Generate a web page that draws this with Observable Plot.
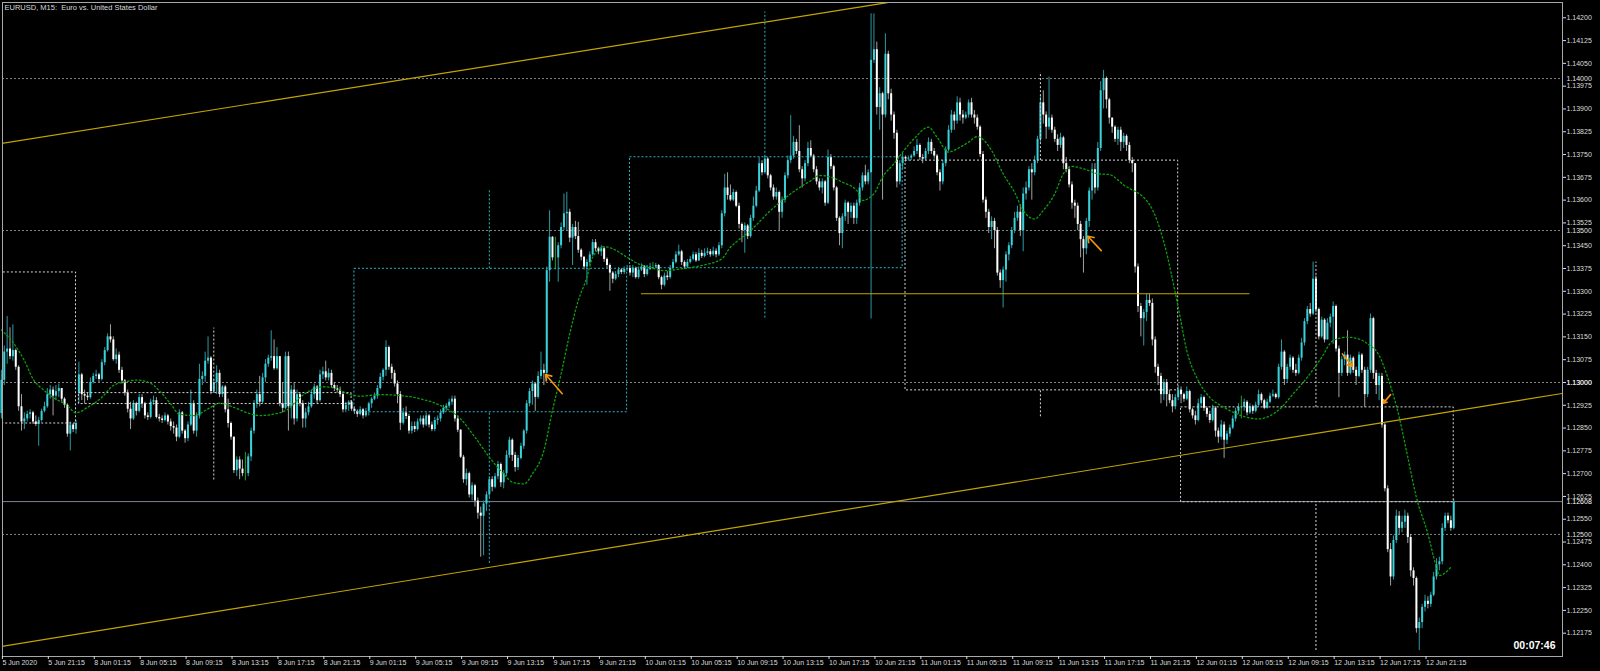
<!DOCTYPE html>
<html><head><meta charset="utf-8">
<script src="https://cdn.jsdelivr.net/npm/d3@7"></script>
<script src="https://cdn.jsdelivr.net/npm/@observablehq/plot@0.6"></script>
<style>
html,body{margin:0;padding:0;background:#000;}
#chart{width:1600px;height:671px;overflow:hidden;}
</style></head><body><div id="chart"></div>
<script>
// EURUSD M15. Prices stored in points (0.00001) above BASE = 1.12000.
// Bar index 0 = 5 Jun 2020 17:15, one bar per 15 minutes (weekend skipped).
const BASE = 1.12, PT = 1e-5;
const titleText = "EURUSD, M15:\u00a0\u00a0Euro vs. United States Dollar";
const timerText = "00:07:46";

const closes = [
1007,1100,1110,1085,1105,1050,920,870,880,895, 900,870,862,875,905,920,960,975,955,970, 980,945,925,830,860,845,865,
1025,960,955,950,1000,1020,1025,1010,1065,1105, 1150,1140,1075,1090,1040,1005,965,912,880,930, 905,950,930,890,885,935,940,885,880,875,
890,870,855,850,820,900,840,815,860,930, 840,890,1010,1020,1070,1080,970,1000,1030,960, 985,910,865,820,710,745,715,700,700,755,
840,930,960,935,1015,1060,1080,1085,1045,1085, 930,915,1085,920,975,880,960,930,880,900, 920,960,985,940,1025,1035,1015,1030,990,980, 975,960,910,925,935,912,
905,895,910,890,905,930,945,955,980,1017, 1040,1115,1050,1030,995,960,866,900,888,840, 855,845,870,880,860,890,860,845,875,880,
900,915,922,935,945,880,843,754,680,700, 630,660,610,570,560,600,630,680,655,690, 730,670,700,760,810,760,720,750,790,840,
930,970,995,951,1020,1040,1030,1368,1478,1410, 1410,1450,1510,1555,1560,1475,1510,1480,1435,1412, 1380,1395,1420,1460,1440,1430,1440,1405,1385,1360, 1340,1355,1370,1362,1372,1375,
1360,1375,1345,1370,1380,1355,1372,1380,1380,1385, 1345,1320,1350,1345,1375,1395,1420,1430,1395,1380, 1395,1405,1420,1400,1425,1415,1425,1430,1420,1432,
1420,1450,1555,1640,1615,1600,1625,1580,1520,1500, 1515,1480,1540,1580,1630,1720,1690,1735,1680,1640, 1610,1625,1560,1600,1680,1730,1745,1790,1760,1700,
1670,1720,1770,1745,1700,1660,1640,1660,1590,1740, 1710,1640,1540,1490,1545,1590,1560,1580,1540,1590, 1640,1680,1660,1690,2060,2095,1905,1950,1880,2080, 1950,1880,1820,1660,1720,1741,
1735,1738,1745,1760,1780,1740,1735,1760,1790,1760, 1745,1690,1660,1720,1765,1830,1880,1860,1920,1880, 1870,1880,1920,1880,1870,1840,1750,1600,1560,1510,
1530,1500,1360,1335,1370,1420,1450,1500,1540,1560, 1500,1620,1640,1700,1690,1730,1800,1920,1880,1840, 1870,1830,1800,1780,1805,1720,1700,1650,1590,1580,
1520,1470,1440,1530,1630,1700,1640,1770,1960,2000, 1930,1870,1840,1800,1830,1790,1810,1780,1730,1720, 1380,1250,1210,1230,1270,1260,1140,1050,1020,960, 1000,960,940,920,950,975,
960,945,970,910,890,875,930,950,915,895, 875,915,840,820,860,810,830,850,880,905, 918,918,935,900,920,905,925,960,940,915,
935,955,960,950,1050,1100,1010,1050,1080,1040, 1030,1080,1130,1200,1240,1225,1340,1240,1150,1205, 1140,1195,1215,1250,1110,1030,1075,1090,1030,1080,
1040,1020,1090,1040,960,1040,1210,1030,990,1020, 860,650,450,360,480,560,520,540,560,490, 380,355,190,210,260,280,270,300,360,400, 410,520,560,545,520,606];

const highs = [
1040,1120,1217,1180,1190,1110,1055,960,900,905, 910,905,890,885,912,935,980,990,985,990, 995,980,950,930,870,865,875,
1067,1030,975,965,1015,1030,1040,1030,1075,1115, 1160,1190,1150,1110,1100,1050,1010,975,935,940, 935,960,960,935,900,945,955,950,895,890,
900,895,880,870,860,910,905,845,870,975, 940,900,1060,1035,1100,1150,1085,1010,1055,1040, 990,990,945,870,820,755,755,745,770,765,
850,940,975,1020,1030,1075,1090,1170,1140,1115, 1080,1000,1100,1100,990,1000,975,965,940,915, 935,975,995,990,1040,1050,1070,1045,1040,1000, 990,985,965,935,940,940,
920,910,920,915,915,935,950,965,990,1030, 1045,1137,1120,1060,1040,1005,970,915,920,895, 870,870,880,890,890,900,895,870,885,890,
910,925,930,945,955,955,890,845,760,715, 705,670,665,620,590,610,640,690,690,700, 740,735,710,775,820,815,770,760,800,845,
940,980,1005,1000,1035,1100,1060,1380,1565,1480, 1478,1460,1525,1620,1626,1570,1520,1530,1527,1440, 1415,1405,1430,1470,1470,1445,1450,1445,1410,1390, 1365,1365,1378,1375,1380,1385,
1385,1385,1380,1380,1390,1385,1385,1392,1395,1392, 1388,1350,1360,1365,1385,1405,1430,1452,1435,1400, 1405,1415,1430,1428,1440,1435,1440,1442,1438,1445,
1440,1460,1565,1685,1690,1650,1635,1630,1590,1525, 1525,1520,1550,1610,1645,1740,1730,1745,1740,1685, 1650,1640,1630,1610,1690,1745,1878,1810,1800,1845,
1710,1730,1790,1795,1750,1710,1670,1670,1665,1765, 1750,1715,1645,1545,1555,1600,1595,1590,1590,1600, 1655,1690,1715,1700,2213,2213,2120,1970,1955,2147, 2090,1965,1890,1830,1730,1755,
1745,1745,1750,1775,1800,1785,1750,1770,1805,1800, 1770,1750,1700,1730,1775,1845,1895,1890,1940,1935, 1895,1890,1930,1935,1895,1880,1845,1760,1610,1570,
1545,1540,1510,1370,1380,1430,1460,1510,1560,1580, 1585,1640,1660,1710,1720,1745,1810,1940,1960,1890, 2005,1880,1840,1815,1820,1810,1740,1710,1660,1600,
1590,1530,1480,1540,1640,1720,1720,1790,1990,2027, 2005,1935,1870,1845,1840,1840,1820,1815,1790,1740, 1720,1390,1260,1240,1290,1290,1275,1150,1060,1030, 1010,1010,975,960,960,990,
985,965,985,975,915,905,945,960,955,920, 905,925,920,850,875,870,840,860,890,915, 930,955,945,940,930,925,935,975,965,945,
945,965,975,965,1060,1140,1105,1060,1090,1085, 1060,1090,1145,1210,1250,1260,1396,1350,1245,1215, 1210,1210,1225,1265,1255,1120,1085,1100,1170,1090,
1085,1050,1100,1095,1050,1050,1225,1215,1040,1030, 1030,865,660,470,495,580,575,560,580,570, 500,390,360,225,270,300,295,310,375,420, 425,535,570,570,560,615];

const lows = [
880,990,1060,1075,1070,1040,905,840,845,870, 880,862,855,790,870,900,915,945,890,940, 950,935,915,820,775,835,830,
930,940,930,940,945,995,1010,1000,1005,1055, 1100,1130,1070,1060,1030,995,955,900,845,875, 890,900,915,880,875,880,925,880,870,865,
870,860,840,830,805,815,830,800,805,855, 830,820,880,990,1000,1060,960,965,960,950, 950,900,850,810,700,690,680,690,676,690,
740,830,915,920,930,1000,1050,1070,1040,1040, 920,900,910,840,880,860,870,920,850,850, 890,915,945,930,935,1010,1005,1005,980,970, 965,950,900,900,905,905,
895,885,890,880,885,890,915,940,945,975, 1005,1020,1040,1010,985,930,842,860,878,830, 830,835,840,860,850,855,850,838,838,860,
870,895,905,915,925,870,835,750,668,660, 620,610,590,550,425,430,575,620,640,650, 680,655,650,690,750,740,705,710,745,780,
830,920,925,905,945,1010,990,1005,1330,1400, 1370,1330,1440,1500,1500,1460,1385,1470,1425,1400, 1370,1320,1385,1415,1430,1420,1415,1395,1375,1300, 1325,1335,1345,1355,1355,1365,
1350,1345,1340,1340,1365,1345,1350,1368,1370,1375, 1338,1305,1315,1335,1340,1370,1390,1415,1385,1372, 1375,1390,1400,1395,1398,1408,1410,1418,1412,1415,
1410,1415,1440,1545,1600,1595,1595,1575,1505,1460, 1425,1470,1475,1530,1575,1625,1680,1685,1670,1630, 1600,1600,1500,1540,1590,1670,1720,1735,1750,1690,
1640,1660,1710,1740,1690,1650,1630,1620,1580,1585, 1700,1630,1530,1450,1440,1530,1520,1540,1520,1520, 1580,1630,1650,1650,1209,2050,1880,1830,1600,1870, 1930,1860,1800,1640,1650,1700,
1725,1728,1730,1740,1750,1730,1720,1730,1750,1750, 1735,1680,1630,1650,1710,1760,1820,1830,1850,1860, 1850,1865,1870,1870,1850,1830,1740,1590,1540,1490,
1470,1440,1350,1310,1245,1330,1400,1440,1490,1530, 1480,1430,1600,1630,1600,1680,1720,1790,1850,1800, 1830,1820,1790,1760,1770,1700,1690,1640,1570,1540,
1500,1410,1360,1420,1510,1600,1620,1630,1760,1900, 1900,1850,1820,1790,1780,1760,1770,1760,1720,1690, 1360,1230,1150,1120,1200,1250,1120,1030,990,930, 940,920,930,900,910,940,
930,935,940,900,880,860,870,915,905,885, 865,870,820,800,810,750,795,820,845,870, 895,880,905,890,895,895,900,918,930,910,
912,930,950,945,945,1040,990,1000,1040,1030, 1020,1025,1070,1120,1190,1215,1220,1230,1140,1145, 1130,1140,1180,1125,1100,950,1020,1055,1020,1025,
1030,990,1015,1030,918,950,1030,1010,960,940, 850,640,440,330,350,470,500,505,520,470, 360,330,175,118,190,245,255,260,295,350, 380,400,510,535,510,515];

// opens equal the previous close except where a gap is visible
const openGaps = {0: 898, 27: 965};

// daily open/close boxes with high/low whiskers (MT4 D1 overlay)
const dayNames   = ["5 Jun", "8 Jun", "9 Jun", "10 Jun", "11 Jun", "12 Jun"];
const dayFirstBar = [-69, 27, 123, 219, 315, 411];
const dayLastBar  = [26, 122, 218, 314, 410, 506];
const dayMidBar   = [-21, 74, 170, 266, 362, 458];
const dayOpen  = [1362, 965, 902, 1376, 1730, 918];
const dayClose = [865, 929, 1374, 1741, 974, 606];
const dayHigh  = [null, 1179, 1632, 2219, 2020, 1396];
const dayLow   = [null, 679, 405, 1212, 887, 118];

// moving average (green dotted), read at sparse bars
const maBars = [0,4,8,11,15,18,23,26,30,35,39,44,47,52,55,59,62,67,72,76,81,86,90,95,100,104,109,112,116,121,125,132,139,146,153,160,165,170,175,178,182,185,189,192,195,198,201,204,206,210,213,218,222,226,231,237,244,251,254,256,261,268,275,282,285,289,293,298,300,304,307,311,314,318,323,326,330,333,337,340,345,349,353,356,360,363,367,370,373,377,382,386,391,400,405,410,413,417,421,426,432,438,441,446,450,455,460,464,469,473,476,480,483,487,490,493,497,500,501,505];
const maValues = [1173,1132,1072,1012,973,951,924,900,918,951,990,1004,1008,997,973,929,896,891,913,932,918,899,891,896,913,951,979,986,982,962,955,960,957,946,924,880,820,754,699,672,666,699,776,908,1028,1160,1270,1346,1412,1447,1440,1412,1390,1379,1368,1374,1385,1407,1445,1462,1500,1566,1621,1664,1681,1676,1659,1632,1599,1621,1676,1720,1758,1802,1840,1807,1758,1769,1791,1809,1763,1687,1626,1566,1538,1566,1621,1687,1711,1703,1687,1684,1650,1586,1462,1248,1105,1006,951,918,891,880,886,918,962,1017,1083,1138,1149,1143,1127,1089,1017,886,754,622,502,392,365,392];

// trend lines (bar, points) and a horizontal level
const upperTrendBars = [-0.3, 308.7], upperTrendPts = [1786, 2250];
const lowerTrendBars = [-0.3, 543.9], lowerTrendPts = [131, 964];
const levelFromBar = 223, levelToBar = 435, levelPts = 1292;

// trade arrows: tail -> head
const arrowTailBar = [195.4, 383.2, 467.2, 484.0], arrowTailPts = [963, 1434, 1094, 960];
const arrowHeadBar = [189.6, 378.5, 470.7, 481.5], arrowHeadPts = [1026, 1481, 1053, 932];

const roundLevels = [1.14000, 1.13500, 1.13000, 1.12500];
const bidPrice = 1.12608;

const yTicks = [1.12175,1.12250,1.12325,1.12400,1.12475,1.12550,1.12625,1.12700,1.12775,1.12850,1.12925,1.13000,1.13075,1.13150,1.13225,1.13300,1.13375,1.13450,1.13525,1.13600,1.13675,1.13750,1.13825,1.13900,1.13975,1.14050,1.14125,1.14200];
const xTickBars = [0,16,32,48,64,80,96,112,128,144,160,176,192,208,224,240,256,272,288,304,320,336,352,368,384,400,416,432,448,464,480,496];
const xTickLabels = ["5 Jun 2020","5 Jun 21:15","8 Jun 01:15","8 Jun 05:15","8 Jun 09:15","8 Jun 13:15","8 Jun 17:15","8 Jun 21:15","9 Jun 01:15","9 Jun 05:15","9 Jun 09:15","9 Jun 13:15","9 Jun 17:15","9 Jun 21:15","10 Jun 01:15","10 Jun 05:15","10 Jun 09:15","10 Jun 13:15","10 Jun 17:15","10 Jun 21:15","11 Jun 01:15","11 Jun 05:15","11 Jun 09:15","11 Jun 13:15","11 Jun 17:15","11 Jun 21:15","12 Jun 01:15","12 Jun 05:15","12 Jun 09:15","12 Jun 13:15","12 Jun 17:15","12 Jun 21:15"];

// ---------------------------------------------------------------
const P = v => BASE + v * PT;
const candles = closes.map((c, i) => {
  const o = (i in openGaps) ? openGaps[i] : closes[i - 1];
  return {i, o: P(o), c: P(c), h: P(Math.max(highs[i], o, c)), l: P(Math.min(lows[i], o, c)),
          kind: c > o ? "up" : c < o ? "down" : "doji"};
});
const up = candles.filter(d => d.kind === "up");
const down = candles.filter(d => d.kind === "down");
const doji = candles.filter(d => d.kind === "doji");

const days = dayNames.map((d, k) => ({
  d, s: dayFirstBar[k], e: dayLastBar[k], m: dayMidBar[k],
  o: P(dayOpen[k]), c: P(dayClose[k]),
  top: P(Math.max(dayOpen[k], dayClose[k])), bot: P(Math.min(dayOpen[k], dayClose[k])),
  h: dayHigh[k] == null ? null : P(dayHigh[k]), l: dayLow[k] == null ? null : P(dayLow[k]),
  up: dayClose[k] > dayOpen[k]
}));
const daysUp = days.filter(d => d.up), daysDown = days.filter(d => !d.up);
const daysW = days.filter(d => d.h != null);

const ma = maBars.map((b, k) => ({b, v: P(maValues[k])}));
const upperTrend = upperTrendBars.map((b, k) => ({b, v: P(upperTrendPts[k])}));
const lowerTrend = lowerTrendBars.map((b, k) => ({b, v: P(lowerTrendPts[k])}));
const arrows = arrowTailBar.map((b, k) => ({tb: b, tp: P(arrowTailPts[k]), hb: arrowHeadBar[k], hp: P(arrowHeadPts[k])}));

const C = {
  bullBody: "#38d2da", bullWick: "#2a9aa2", bearBody: "#ffffff", bearWick: "#a2a2a2", doji: "#22a022",
  ma: "#0ca00c", dayUp: "#2ab3c8", dayDown: "#d6d6d6", grid: "#858585", bid: "#7b8594",
  gold: "#c4a500", arrow: "#f5960a", text: "#dcdcdc", frame: "#a8a8a8"
};
const fmt = d3.format(".5f");
const labelFor = new Map(xTickBars.map((b, k) => [b, xTickLabels[k]]));

const chart = Plot.plot({
  width: 1600, height: 671,
  marginLeft: 2, marginRight: 38, marginTop: 2, marginBottom: 15,
  style: {background: "#000", color: C.text, fontFamily: "'Liberation Sans', Arial, sans-serif", fontSize: "7px", overflow: "visible"},
  x: {type: "linear", domain: [0.383, 543.9]},
  y: {type: "linear", domain: [1.120983, 1.142503]},
  marks: [
    Plot.ruleY(roundLevels, {stroke: C.grid, strokeDasharray: "2,2", strokeWidth: 1}),
    Plot.ruleY([bidPrice], {stroke: C.bid, strokeWidth: 1}),
    // candles
    Plot.ruleX(up, {x: "i", y1: "l", y2: "h", stroke: C.bullWick, strokeWidth: 1}),
    Plot.ruleX(down, {x: "i", y1: "l", y2: "h", stroke: C.bearWick, strokeWidth: 1}),
    Plot.ruleX(doji, {x: "i", y1: "l", y2: "h", stroke: C.doji, strokeWidth: 1}),
    Plot.ruleX(up, {x: "i", y1: "o", y2: "c", stroke: C.bullBody, strokeWidth: 2}),
    Plot.ruleX(down, {x: "i", y1: "o", y2: "c", stroke: C.bearBody, strokeWidth: 2}),
    // daily boxes
    Plot.rect(daysUp, {x1: "s", x2: "e", y1: "o", y2: "c", fill: "none", stroke: C.dayUp, strokeDasharray: "2,2", clip: true}),
    Plot.rect(daysDown, {x1: "s", x2: "e", y1: "o", y2: "c", fill: "none", stroke: C.dayDown, strokeDasharray: "2,2", clip: true}),
    Plot.ruleX(daysW.filter(d => d.up), {x: "m", y1: "top", y2: "h", stroke: C.dayUp, strokeDasharray: "2,2", clip: true}),
    Plot.ruleX(daysW.filter(d => d.up), {x: "m", y1: "l", y2: "bot", stroke: C.dayUp, strokeDasharray: "2,2", clip: true}),
    Plot.ruleX(daysW.filter(d => !d.up), {x: "m", y1: "top", y2: "h", stroke: C.dayDown, strokeDasharray: "2,2", clip: true}),
    Plot.ruleX(daysW.filter(d => !d.up), {x: "m", y1: "l", y2: "bot", stroke: C.dayDown, strokeDasharray: "2,2", clip: true}),
    // moving average
    Plot.line(ma, {x: "b", y: "v", stroke: C.ma, strokeWidth: 1.3, strokeDasharray: "1.5,2.5", curve: "monotone-x"}),
    // trend lines
    Plot.line(upperTrend, {x: "b", y: "v", stroke: C.gold, strokeWidth: 1.2, clip: true}),
    Plot.line(lowerTrend, {x: "b", y: "v", stroke: C.gold, strokeWidth: 1.2, clip: true}),
    Plot.ruleY([{p: P(levelPts), a: levelFromBar, b: levelToBar}], {y: "p", x1: "a", x2: "b", stroke: C.gold, strokeWidth: 1.2}),
    // arrows
    Plot.arrow(arrows, {x1: "tb", y1: "tp", x2: "hb", y2: "hp", stroke: C.arrow, strokeWidth: 1.6, headLength: 6, headAngle: 70}),
    // frame + axes
    Plot.frame({stroke: C.frame}),
    Plot.axisY({anchor: "right", ticks: yTicks, tickFormat: fmt, tickSize: 3, tickPadding: 1, label: null, fontSize: 7, color: C.text}),
    Plot.axisX({anchor: "bottom", ticks: xTickBars, tickFormat: d => labelFor.get(d), tickSize: 3, tickPadding: 1, textAnchor: "start", dx: 1, label: null, fontSize: 7, color: C.text}),
    // price labels at levels
    Plot.text(roundLevels, {y: d => d, text: d => fmt(d), frameAnchor: "right", dx: 4, textAnchor: "start", fill: "#e2e2e2", fontSize: 7, ariaLabel: "hl-grid"}),
    Plot.text([bidPrice], {y: d => d, text: d => fmt(d), frameAnchor: "right", dx: 4, textAnchor: "start", fill: "#ffffff", fontSize: 7, ariaLabel: "hl-bid"}),
    // title and countdown
    Plot.text([titleText], {frameAnchor: "top-left", dx: 2, dy: 5, textAnchor: "start", lineAnchor: "middle", fill: "#d8d8d8", fontSize: 7.5}),
    Plot.text([timerText], {frameAnchor: "bottom-right", dx: -7, dy: -11, textAnchor: "end", lineAnchor: "middle", fill: "#ffffff", fontSize: 10.5, fontWeight: "bold"})
  ]
});
document.getElementById("chart").append(chart);

for (const [lab, bg] of [["hl-grid", "#7c7c7c"], ["hl-bid", "#778899"]]) {
  chart.querySelectorAll(`g[aria-label="${lab}"] text`).forEach(t => {
    const b = t.getBBox();
    const r = document.createElementNS("http://www.w3.org/2000/svg", "rect");
    r.setAttribute("x", b.x - 1.5); r.setAttribute("y", b.y - 0.3);
    r.setAttribute("width", b.width + 3); r.setAttribute("height", b.height + 0.6);
    r.setAttribute("fill", bg);
    t.parentNode.insertBefore(r, t);
  });
}
</script></body></html>
